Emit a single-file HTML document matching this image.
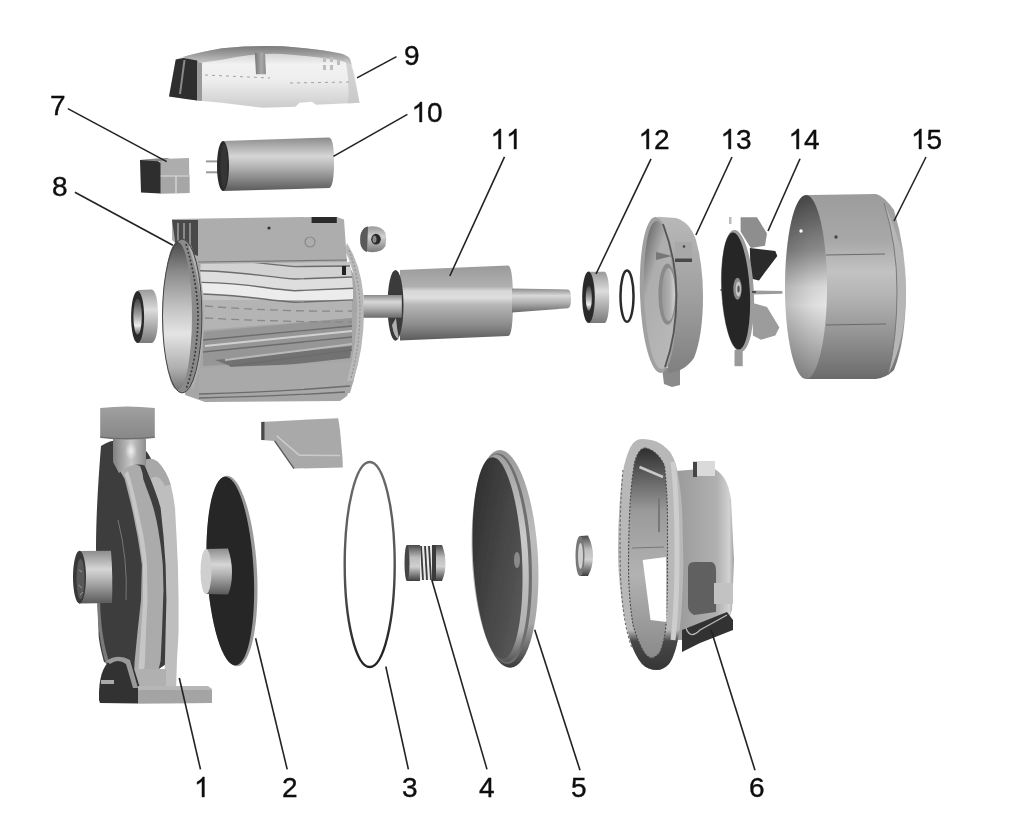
<!DOCTYPE html>
<html><head><meta charset="utf-8"><title>Pump exploded view</title>
<style>
html,body{margin:0;padding:0;background:#fff;}
body{width:1024px;height:833px;overflow:hidden;position:relative;}
svg{position:absolute;left:0;top:0;}
text{font-family:"Liberation Sans",sans-serif;font-size:28px;fill:#111;}
</style></head><body>
<svg width="1024" height="833" viewBox="0 0 1024 833">
<defs>
  <linearGradient id="gV9" x1="0" y1="0" x2="0" y2="1">
    <stop offset="0" stop-color="#c0c0c0"/><stop offset="0.3" stop-color="#f2f2f2"/>
    <stop offset="0.55" stop-color="#eeeeee"/><stop offset="0.85" stop-color="#d8d8d8"/><stop offset="1" stop-color="#cccccc"/>
  </linearGradient>
  <linearGradient id="gCham" x1="0" y1="0" x2="0" y2="1">
    <stop offset="0" stop-color="#7a7a7a"/><stop offset="0.5" stop-color="#a2a2a2"/><stop offset="1" stop-color="#d0d0d0"/>
  </linearGradient>
  <linearGradient id="gSlot" x1="0" y1="0" x2="1" y2="0">
    <stop offset="0" stop-color="#777"/><stop offset="0.6" stop-color="#a8a8a8"/><stop offset="1" stop-color="#888"/>
  </linearGradient>
  <linearGradient id="gCyl" x1="0" y1="0" x2="0" y2="1">
    <stop offset="0" stop-color="#8c8c8c"/><stop offset="0.35" stop-color="#d6d6d6"/>
    <stop offset="0.55" stop-color="#b4b4b4"/><stop offset="1" stop-color="#5a5a5a"/>
  </linearGradient>
  <linearGradient id="gCylH" x1="0" y1="0" x2="1" y2="0">
    <stop offset="0" stop-color="#7a7a7a"/><stop offset="0.45" stop-color="#dadada"/>
    <stop offset="1" stop-color="#7a7a7a"/>
  </linearGradient>
  <linearGradient id="gRing8" x1="0" y1="0" x2="0" y2="1">
    <stop offset="0" stop-color="#4a4a4a"/><stop offset="0.2" stop-color="#8a8a8a"/><stop offset="0.45" stop-color="#c4c4c4"/>
    <stop offset="0.62" stop-color="#e4e4e4"/><stop offset="0.85" stop-color="#b0b0b0"/><stop offset="1" stop-color="#777"/>
  </linearGradient>
  <linearGradient id="gBody8" x1="0" y1="0" x2="0" y2="1">
    <stop offset="0" stop-color="#a0a0a0"/><stop offset="0.3" stop-color="#c6c6c6"/>
    <stop offset="0.5" stop-color="#b0b0b0"/><stop offset="0.8" stop-color="#8e8e8e"/><stop offset="1" stop-color="#a0a0a0"/>
  </linearGradient>
  <linearGradient id="gIn15" x1="0" y1="0" x2="0" y2="1">
    <stop offset="0" stop-color="#4a4a4a"/><stop offset="0.3" stop-color="#8e8e8e"/>
    <stop offset="0.5" stop-color="#dadada"/><stop offset="0.6" stop-color="#e6e6e6"/><stop offset="0.8" stop-color="#b8b8b8"/><stop offset="1" stop-color="#8a8a8a"/>
  </linearGradient>
  <linearGradient id="gIn15L" x1="0" y1="0" x2="1" y2="0">
    <stop offset="0" stop-color="#000" stop-opacity="0.18"/><stop offset="0.6" stop-color="#000" stop-opacity="0.05"/><stop offset="1" stop-color="#000" stop-opacity="0"/>
  </linearGradient>
  <linearGradient id="gOut15" x1="0" y1="0" x2="0" y2="1">
    <stop offset="0" stop-color="#9c9c9c"/><stop offset="0.25" stop-color="#a8a8a8"/><stop offset="0.42" stop-color="#c2c2c2"/>
    <stop offset="0.55" stop-color="#b4b4b4"/><stop offset="0.75" stop-color="#959595"/><stop offset="1" stop-color="#6a6a6a"/>
  </linearGradient>
  <linearGradient id="gDisc5" x1="0" y1="0" x2="1" y2="1">
    <stop offset="0" stop-color="#2a2a2a"/><stop offset="0.5" stop-color="#454545"/><stop offset="1" stop-color="#5e5e5e"/>
  </linearGradient>
  <linearGradient id="gBody6" x1="0" y1="0" x2="1" y2="0">
    <stop offset="0" stop-color="#9a9a9a"/><stop offset="0.7" stop-color="#b0b0b0"/><stop offset="0.92" stop-color="#d2d2d2"/><stop offset="1" stop-color="#a0a0a0"/>
  </linearGradient>
  <linearGradient id="gIn6" x1="0" y1="0" x2="0" y2="1">
    <stop offset="0" stop-color="#2e2e2e"/><stop offset="0.12" stop-color="#5a5a5a"/><stop offset="0.3" stop-color="#9a9a9a"/><stop offset="0.6" stop-color="#b2b2b2"/><stop offset="1" stop-color="#8a8a8a"/>
  </linearGradient>
  <linearGradient id="gRim13" x1="0" y1="0" x2="0" y2="1">
    <stop offset="0" stop-color="#b8b8b8"/><stop offset="0.5" stop-color="#a0a0a0"/><stop offset="1" stop-color="#808080"/>
  </linearGradient>
  <linearGradient id="gIn13" x1="0" y1="0" x2="0.6" y2="1">
    <stop offset="0" stop-color="#3e3e3e"/><stop offset="0.18" stop-color="#7a7a7a"/><stop offset="0.4" stop-color="#adadad"/><stop offset="1" stop-color="#b8b8b8"/>
  </linearGradient>
  <linearGradient id="gBrg" x1="0" y1="0" x2="0" y2="1">
    <stop offset="0" stop-color="#9a9a9a"/><stop offset="0.38" stop-color="#dcdcdc"/><stop offset="1" stop-color="#7a7a7a"/>
  </linearGradient>
  <linearGradient id="gHole" x1="0" y1="0" x2="0" y2="1">
    <stop offset="0" stop-color="#444"/><stop offset="0.5" stop-color="#aaa"/><stop offset="0.75" stop-color="#eee"/><stop offset="1" stop-color="#666"/>
  </linearGradient>
  <linearGradient id="gFinHi" x1="0" y1="0" x2="0" y2="1">
    <stop offset="0" stop-color="#bcbcbc"/><stop offset="0.6" stop-color="#d4d4d4"/><stop offset="1" stop-color="#b6b6b6"/>
  </linearGradient>
  <linearGradient id="gShaft" x1="0" y1="0" x2="0" y2="1">
    <stop offset="0" stop-color="#8a8a8a"/><stop offset="0.3" stop-color="#d8d8d8"/><stop offset="0.6" stop-color="#b0b0b0"/><stop offset="1" stop-color="#6a6a6a"/>
  </linearGradient>
  <linearGradient id="gRotor" x1="0" y1="0" x2="0" y2="1">
    <stop offset="0" stop-color="#9a9a9a"/><stop offset="0.28" stop-color="#b0b0b0"/><stop offset="0.34" stop-color="#d8d8d8"/><stop offset="0.43" stop-color="#dedede"/><stop offset="0.52" stop-color="#b8b8b8"/><stop offset="0.8" stop-color="#8a8a8a"/><stop offset="1" stop-color="#5a5a5a"/>
  </linearGradient>
  <path id="one" d="M763 0H583V1147Q518 1085 412.5 1023T223 930V1104Q371 1174 482 1274T639 1468H763Z" vector-effect="non-scaling-stroke"/>
  <linearGradient id="gSeal" x1="0" y1="0" x2="0" y2="1">
    <stop offset="0" stop-color="#4a4a4a"/><stop offset="0.35" stop-color="#bdbdbd"/><stop offset="0.6" stop-color="#d0d0d0"/><stop offset="1" stop-color="#3e3e3e"/>
  </linearGradient>
  <clipPath id="cp6"><path d="M642,439 C652,439 662,442 670.5,452.5 C675,460 677,467 678,475 C681,490 682,505 682.5,520 L683.4,565 C683,580 682.5,595 681.6,610 C680.5,625 679,636 676.5,646 C674,655 672,660 669,664 C665,668 661,670 657,670 C651,670 646,668 642,664 C637,658 633,650 630,640 C626,627 623,612 621,595 C619,580 618,565 618,550 C618,535 618.5,520 619.5,505 C620.5,490 622,477 624,466 C626,458 628,452 630,448 C633,442 637,439 642,439 Z"/></clipPath>
  <linearGradient id="gBot6" x1="0" y1="0" x2="0" y2="1">
    <stop offset="0" stop-color="#3a3a3a" stop-opacity="0"/><stop offset="0.25" stop-color="#3a3a3a" stop-opacity="0.9"/><stop offset="1" stop-color="#333"/>
  </linearGradient>
  <linearGradient id="gRim5" x1="0" y1="0" x2="0" y2="1">
    <stop offset="0" stop-color="#9a9a9a"/><stop offset="0.4" stop-color="#bdbdbd"/><stop offset="0.8" stop-color="#a8a8a8"/><stop offset="1" stop-color="#3a3a3a"/>
  </linearGradient>
  <linearGradient id="gRim5b" x1="0" y1="0" x2="0" y2="1">
    <stop offset="0" stop-color="#a0a0a0"/><stop offset="0.4" stop-color="#cacaca"/><stop offset="0.85" stop-color="#b0b0b0"/><stop offset="1" stop-color="#555"/>
  </linearGradient>
  <linearGradient id="gHub13" x1="0" y1="0" x2="1" y2="0">
    <stop offset="0" stop-color="#9a9a9a"/><stop offset="0.6" stop-color="#b0b0b0"/><stop offset="1" stop-color="#d2d2d2"/>
  </linearGradient>
  <filter id="soft" x="-2%" y="-2%" width="104%" height="104%"><feGaussianBlur stdDeviation="0.55"/></filter>
  <linearGradient id="gOring" gradientUnits="userSpaceOnUse" x1="344" y1="480" x2="396" y2="650">
    <stop offset="0" stop-color="#6a6a6a"/><stop offset="0.5" stop-color="#555"/><stop offset="1" stop-color="#222"/>
  </linearGradient>
  <linearGradient id="gNut" x1="0" y1="0" x2="0" y2="1">
    <stop offset="0" stop-color="#9a9a9a"/><stop offset="0.4" stop-color="#d0d0d0"/><stop offset="1" stop-color="#7a7a7a"/>
  </linearGradient>
  <linearGradient id="gNeck" x1="0" y1="0" x2="1" y2="0">
    <stop offset="0" stop-color="#808080"/><stop offset="0.55" stop-color="#c8c8c8"/><stop offset="1" stop-color="#8e8e8e"/>
  </linearGradient>
  <linearGradient id="gPipe1" x1="0" y1="0" x2="0" y2="1">
    <stop offset="0" stop-color="#a0a0a0"/><stop offset="0.5" stop-color="#939393"/><stop offset="1" stop-color="#878787"/>
  </linearGradient>
  <radialGradient id="rHi"><stop offset="0" stop-color="#f0f0f0" stop-opacity="0.95"/><stop offset="1" stop-color="#f0f0f0" stop-opacity="0"/></radialGradient>
</defs>

<g id="allparts" filter="url(#soft)">
<!-- PART 9 cover -->
<g id="p9">
  <path d="M169,96.5 L175.4,60.6 Q178,57.5 183,57 Q200,52 222,48.3 Q252,45 283,46.3 Q320,49 340.5,53.5 Q348,55.5 350,59 L355,76 L359.5,102.7 L316,104.7 L312,101.7 L299.5,102.7 L295.4,106.8 L262.5,107.8 L221.5,102.7 L197,100.6 Z" fill="url(#gV9)"/>
  <path d="M183,57 Q200,52 222,48.3 Q252,45 283,46.3 Q320,49 340.5,53.5 Q348,55.5 350,59 L352,65 Q345,61 335,59.5 Q310,56 283,54 Q252,53 224,59.5 Q205,62 197,63.5 Z" fill="url(#gCham)"/>
  <path d="M169,96.6 L175.7,59.5 L183.6,58 L197.2,60.5 L197.5,63 L197,100.6 L186,99 Z" fill="#2e2e2e"/>
  <path d="M197,62 L202,63 L202,101 L197,100.6 Z" fill="#9a9a9a"/>
  <path d="M183.5,60 L185.5,60 L181,94 L179,94 Z" fill="#8a8a8a"/>
  <path d="M254.8,52.7 L265,52.4 L266,74.2 L256,74.2 Z" fill="url(#gSlot)"/>
  <path d="M345,58 Q352,62 354,76 L359.5,102.7 L348,103.5 Q350,80 345,58 Z" fill="#c4c4c4" opacity="0.7"/>
  <g stroke="#9a9a9a" stroke-width="0.9" stroke-dasharray="3 4" fill="none"><path d="M205,75 L270,78"/><path d="M290,83 L350,82"/></g>
  <g fill="#bdbdbd"><rect x="323" y="57" width="3" height="5"/><rect x="330" y="57" width="3" height="5"/><rect x="323" y="65" width="3" height="5"/><rect x="330" y="65" width="3" height="5"/><rect x="337" y="60" width="3" height="5"/></g>
</g>

<!-- PART 7 block -->
<g id="p7">
  <path d="M160,159 L189,158 L189.5,193 L160,193.5 Z" fill="#adadad"/>
  <path d="M160,175 L189.5,175 L189.5,193 L160,193.5 Z" fill="#a6a6a6"/>
  <line x1="176" y1="176" x2="176" y2="193" stroke="#e0e0e0" stroke-width="1.2"/>
  <line x1="160" y1="176" x2="189.5" y2="176" stroke="#e0e0e0" stroke-width="1"/>
  <path d="M140,160 L156,159.5 L160.5,163 L160.5,193.5 L141,192.5 Z" fill="#2e2e2e"/>
  <path d="M140,160 L156,158.5 L170,158 L160,161.5 Z" fill="#888"/>
</g>

<!-- PART 10 capacitor -->
<g id="p10">
  <line x1="206" y1="161.4" x2="226" y2="161.4" stroke="#9a9a9a" stroke-width="2"/>
  <line x1="206" y1="172.3" x2="226" y2="172.3" stroke="#9a9a9a" stroke-width="2"/>
  <path d="M223,141 L329,137.5 Q334,138 334,162.5 Q334,187 329,188 L223,191 Z" fill="url(#gCyl)"/>
  <ellipse cx="223" cy="166" rx="6" ry="25" fill="#2a2a2a"/>
  <ellipse cx="224" cy="166" rx="3.5" ry="22" fill="#363636"/>
</g>

<!-- PART 8 motor -->
<g id="p8">
  <!-- bearing left -->
  <path d="M138,290 L152,289.5 Q158,292 158,316 Q158,340 152,343 L138,343 Z" fill="url(#gBrg)"/>
  <ellipse cx="137.6" cy="317" rx="6.5" ry="26" fill="#2a2a2a"/>
  <ellipse cx="137.6" cy="316.5" rx="4.2" ry="18" fill="url(#gHole)"/>
  <!-- body -->
  <path d="M192,262 L347,262 Q363,290 363.5,310 Q363,345 353.5,381 L347,396 L340,401 L205,402 L185,395 Z" fill="#a6a6a6"/>
  <path d="M200,262 L350,262 L352,300 L203,300 Z" fill="#c4c4c4"/>
  <path d="M203,259 C250,260 265,264.6 295,266.6 L350,266 L352,277 L295,279 C265,277 250,272 200,270.8 Z" fill="#d2d2d2"/>
  <path d="M200,270.8 C250,272 265,277 295,279 L352,277 L353,288.2 L295,290.7 C265,288.7 250,283.5 201.6,282.4 Z" fill="#dedede"/>
  <path d="M201.6,282.4 C250,283.5 265,288.7 295,290.7 L353,288.2 L353,299.9 L295,302.3 C265,300.3 250,295.5 203.3,294 Z" fill="#ececec"/>
  <path d="M203,300 L352,300 L352,318 L203,330 Z" fill="#b4b4b4"/>
  <path d="M203,332 L352,318 L352,346 L300,360 L203,366 Z" fill="#969696"/>
  <path d="M215,360 L352,346 L350,358 L240,370 Z" fill="#727272"/>
  <path d="M199,368 L353.5,362 L353.5,381 L350,393 L199,393 Z" fill="#a9a9a9"/>
  <g stroke-width="1.4" fill="none" stroke="#6c6c6c">
    <path d="M203,259 C250,260 265,264.6 295,266.6 L350,266"/>
    <path d="M200,270.8 C250,272 265,277 295,279 L352,277"/>
    <path d="M201.6,282.4 C250,283.5 265,288.7 295,290.7 L353,288.2"/>
    <path d="M203.3,294 C250,295.5 265,300.3 295,302.3 L353,299.9"/>
  </g>
  <g stroke-width="1.3" fill="none" stroke="#888" stroke-dasharray="8 5">
    <path d="M205,306 Q280,312 352,311"/>
    <path d="M205,318 Q280,322 352,322"/>
  </g>
  <g stroke-width="1.3" fill="none" stroke="#6c6c6c">
    <path d="M203,340 L352,326"/>
    <path d="M203,352 L352,337"/>
    <path d="M230,366 L352,350"/>
    <path d="M199,394 Q280,392 350,386"/>
    <path d="M199,398 Q280,396 345,392"/>
  </g>
  <g stroke-width="2" fill="none" stroke="#d0d0d0">
    <path d="M205,346 L352,331"/>
    <path d="M225,360 L352,344" stroke="#bababa"/>
  </g>
  <!-- right end cap -->
  <path d="M347,243 Q364,270 364,310 Q364,350 353,381 L347,381 Q357,345 357,310 Q357,275 345,250 Z" fill="#b8b8b8"/>
  <g stroke="#888" stroke-width="1" stroke-dasharray="2 2" fill="none"><path d="M349,250 Q360,280 360,310 Q360,345 351,378"/></g>
  <!-- top box -->
  <path d="M172,219 L312,217 L337,217 L344,219.6 L347,262 L198,264 L172,240 Z" fill="#adadad"/>
  <path d="M198,262 L347,260" stroke="#777" stroke-width="1.2"/>
  <path d="M172,220 L198,220 L198,256 L176,248 Z" fill="#4a4a4a"/>
  <g stroke="#a0a0a0" stroke-width="1.5"><line x1="178" y1="223" x2="178" y2="246"/><line x1="184" y1="223" x2="184" y2="250"/><line x1="190" y1="223" x2="190" y2="252"/></g>
  <path d="M311.6,217 L336.8,217 L336.8,223 L311.6,223 Z" fill="#2a2a2a"/>
  <path d="M342,266 L346,266 L346,275 L342,275 Z" fill="#222"/>
  <circle cx="269" cy="228" r="1.6" fill="#333"/>
  <circle cx="310" cy="242" r="5" fill="none" stroke="#8a8a8a" stroke-width="1.2"/>
  <!-- front ring -->
  <ellipse cx="182.2" cy="316" rx="19.7" ry="77" fill="#8a8a8a"/>
  <path d="M190,246 Q204,290 203,320 Q202,360 192,388" stroke="#b0b0b0" stroke-width="2.5" fill="none"/>
  <path d="M186,244 Q198,285 198,318 Q197,360 186,389" stroke="#3a3a3a" stroke-width="1.6" stroke-dasharray="2 2" fill="none"/>
  <ellipse cx="177.5" cy="316" rx="14.5" ry="74" fill="url(#gRing8)"/>
  <ellipse cx="182.2" cy="316" rx="19.7" ry="77" fill="none" stroke="#444" stroke-width="1"/>
  <!-- nut -->
  <path d="M361,233 Q364,226.5 372,226.3 Q382,226 385.5,233 Q387,239 385.5,246 Q382,252.2 372,252.2 Q364,252 361,246 Q359.3,239 361,233 Z" fill="url(#gNut)"/>
  <path d="M361,233 Q364,226.5 368,226.6 L367,252 Q363,251 361,246 Q359.3,239 361,233 Z" fill="#5a5a5a"/>
  <ellipse cx="376" cy="239.2" rx="4.8" ry="5.4" fill="#2a2a2a"/>
  <ellipse cx="374.5" cy="239.2" rx="2" ry="3.5" fill="#8a8a8a"/>
</g>

<!-- PART 11 rotor -->
<g id="p11">
  <path d="M400,270 L508,265.5 Q513,266 513,301 Q513,336 508,336 L400,340.6 Z" fill="url(#gRotor)"/>
  <ellipse cx="395.5" cy="305.3" rx="8" ry="35.4" fill="#3a3a3a"/>
  <path d="M392,325 Q394,338 399,339 Q397,330 396,318 Z" fill="#b0b0b0"/>
  <path d="M363.6,295 L401.8,295 L401.8,317.8 L363.6,317.8 Z" fill="url(#gShaft)"/>
  <path d="M512,288.4 L568,289.5 Q571,290 571,299 Q571,307.5 568,308.2 L512,312.4 Z" fill="url(#gShaft)"/>
</g>

<!-- PART 12 bearing + oring -->
<g id="p12">
  <path d="M588.5,271.7 L605,271.7 Q609.2,276 609.2,297 Q609.2,319 605,323 L588.5,323 Z" fill="url(#gBrg)"/>
  <ellipse cx="588.5" cy="297.3" rx="6.3" ry="25.7" fill="#2c2c2c"/>
  <ellipse cx="588.8" cy="298.2" rx="3" ry="12.5" fill="url(#gHole)"/>
  <ellipse cx="627" cy="296.1" rx="6.5" ry="25.6" fill="none" stroke="#2a2a2a" stroke-width="2.5"/>
</g>

<!-- PART 13 end shield -->
<g id="p13">
  <path d="M662,368 L680,368 L680,385 L672,387 L664,384 Z" fill="#8a8a8a"/>
  <path d="M658,216.8 L676,218 Q690,222 696,240 Q703,265 703,296 Q703,335 694,358 Q684,372 668,373 Z" fill="url(#gRim13)"/>
  <ellipse cx="658" cy="295" rx="18" ry="78" transform="rotate(-2 658 295)" fill="#a0a0a0"/>
  <ellipse cx="659" cy="295" rx="15" ry="74" transform="rotate(-2 659 295)" fill="url(#gIn13)"/>
  <ellipse cx="667.4" cy="294.2" rx="9" ry="30.6" fill="#8a8a8a"/>
  <ellipse cx="668.5" cy="294.5" rx="6.5" ry="26.5" fill="url(#gHub13)"/>
  <path d="M675,242 L692,242 L692,262 L675,262 Z" fill="#a8a8a8"/>
  <path d="M675,258.5 L692,258.5 L692,262 L675,262 Z" fill="#4a4a4a"/>
  <circle cx="684" cy="246.5" r="1.3" fill="#444"/>
  <path d="M656,252 L672,256 L656,260 Z" fill="#777"/>
  <path d="M663,224 Q676.5,260 676.5,295 Q676.5,335 665,367" stroke="#555" stroke-width="1.8" fill="none"/>
</g>

<!-- PART 14 fan -->
<g id="p14">
  <path d="M740.6,217.2 L757,217.2 L767,233.6 L765,245.8 L750.8,247.9 L740.6,231.5 Z" fill="#8e8e8e"/>
  <path d="M749.8,247.9 L775.3,250.9 L777.3,256 L765,272.3 L759,280.5 L750.8,278.5 Z" fill="#2c2c2c"/>
  <path d="M752,290.5 L782.4,291 L782.4,293.8 L752,294.5 Z" fill="#9c9c9c"/>
  <path d="M752.9,303 L767,307 L779.4,327.4 L775.3,335.6 L761,339.7 L752.9,335.6 Z" fill="#9c9c9c"/>
  <path d="M734.5,350 L742.7,350 L742.7,366.2 L734.5,366.2 Z" fill="#9a9a9a"/>
  <path d="M729,217 L731.5,217 L731.5,224 L729,224 Z" fill="#bbb"/>
  <ellipse cx="737.5" cy="291" rx="16.3" ry="61" transform="rotate(-3 737.5 291)" fill="#9c9c9c"/>
  <ellipse cx="735.8" cy="291" rx="14" ry="58.5" transform="rotate(-3 735.8 291)" fill="#262626"/>
  <ellipse cx="737.5" cy="288.7" rx="4.2" ry="11" fill="#8a8a8a"/>
  <ellipse cx="738.3" cy="289" rx="2.6" ry="7.5" fill="#c8c8c8"/>
  <ellipse cx="738.5" cy="289" rx="1.2" ry="3.5" fill="#555"/>
  <path d="M720.5,290 L724,290 M752,292 L756,292" stroke="#333" stroke-width="1.5"/>
</g>

<!-- PART 15 cover -->
<g id="p15">
  <path d="M806,195 L876,194 Q884,196 894,210 Q906,250 906,290 Q906,340 894,370 Q886,378 876,379 L806,379 Z" fill="url(#gOut15)"/>
  <path d="M884,203 Q906,250 906,290 Q906,340 888,375 Q897,340 897,290 Q897,245 884,203 Z" fill="#b6b6b6"/>
  <path d="M884,203 Q897,245 897,290 Q897,340 888,375" stroke="#7a7a7a" stroke-width="1" fill="none"/>
  <ellipse cx="806" cy="287" rx="21" ry="92" fill="url(#gIn15)"/>
  <ellipse cx="806" cy="287" rx="21" ry="92" fill="url(#gIn15L)"/>
  <path d="M826,255 L885,254" stroke="#6a6a6a" stroke-width="1.2"/>
  <path d="M826,325 L886,324" stroke="#6a6a6a" stroke-width="1.2"/>
  <circle cx="801" cy="231" r="1.7" fill="#fff"/>
  <circle cx="836" cy="237" r="1.7" fill="#444"/>
</g>

<!-- PART 1 casing -->
<g id="p1">
  <!-- dark volute -->
  <path d="M101,446 Q118,434 142,446 Q165,470 170,540 L172,660 L150,675 L104,662 Q98,640 98.6,632 L96,548 Q96,508 101,446 Z" fill="#3c3c3c"/>
  <path d="M97,600 Q98,640 106,664 L110,664 Q101,640 100,600 Z" fill="#7a7a7a"/>
  <path d="M118,520 Q128,560 126,600" stroke="#777" stroke-width="1" fill="none"/>
  <!-- flange front band -->
  <path d="M118.8,468.7 Q130,462 140,466 C142,470 143,475 143.3,479 C147,490 151,499 153.4,508 C156,517 158,527 159.2,536 C161,546 162,556 162.8,565 L163.5,590 L162,632 L160.6,661 L158,672 L134,672 L134.7,661 L137.5,632 L141,600 L141.9,565 C140.5,555 139,545 137.5,536 C135.5,527 134,517 131.8,508 C129.5,498 127,488 124.6,479 Z" fill="#ababab"/>
  <path d="M128,471 C132,483 135,496 137.5,508 C140,520 142,528 143.5,536 C145,546 146.5,556 147,565 L147.5,600 L146,632 L145,661 L144,672 L138,672 L139,661 L141,632 L143,600 L143,565 C142,556 140.5,546 139,536 C137,526 135,516 133,508 C131,496 128.5,484 124.6,474 Z" fill="#c6c6c6"/>
  <!-- outer lip -->
  <path d="M143.3,461.5 Q150,456 158,462 Q166,470 170.7,484.6 C172.5,492 174,500 175,508 L176.5,536 L177.9,565 L178.6,600 L178.6,632 L177,660 L176,690 L164,690 L165,660 L165.6,632 L166.4,600 L165.6,565 L163.5,536 L160.6,508 C158,498 154,488 150.5,479 Z" fill="#bebebe"/>
  <path d="M143.3,461.5 Q150,456 158,462 Q166,470 170.7,484.6 L165,486 Q158,472 150.5,479 Z" fill="#a8a8a8"/>
  <!-- neck -->
  <path d="M113,439 L146,439 L146,466 Q133,461 119,473 L113,462 Z" fill="url(#gNeck)"/>
  <ellipse cx="131" cy="451" rx="6" ry="9" fill="url(#rHi)"/>
  <!-- top pipe -->
  <path d="M100.2,408 Q127,405 154.8,408 L154.8,438 Q127,441 100.2,438 Z" fill="url(#gPipe1)"/>
  <path d="M100.2,437 Q127,440.5 154.8,437" stroke="#6a6a6a" stroke-width="1.2" fill="none"/>
  <!-- inlet pipe -->
  <path d="M79,551 L111,550.8 Q113,576 112,603 L79,603.5 Z" fill="url(#gCyl)"/>
  <ellipse cx="79.5" cy="577.2" rx="6.5" ry="26.4" fill="#383838"/>
  <ellipse cx="80.5" cy="579" rx="4" ry="20" fill="#595959"/>
  <path d="M79,570 L82,572 M78.5,585 L82,588 M80,595 L83,592" stroke="#999" stroke-width="1"/>
  <!-- foot -->
  <path d="M133,669 L166,669 L166,687 L133,687 Z" fill="#b0b0b0"/>
  <path d="M99,700 Q98,668 112,659 Q122,654 132,662 L140,688 L138,703.5 L100,703 Z" fill="#333"/>
  <path d="M106,661 Q118,653 130,660 L138,688 L133,688 L126,664 Q118,658 110,664 Z" fill="#9a9a9a"/>
  <path d="M101,680 L114,680 L114,684 L101,684 Z" fill="#aaa"/>
  <path d="M138,686 L208,686 L212,689 L212,703 L138,703.5 Z" fill="#b6b6b6"/>
  <path d="M138,690 L212,690 L212,703 L138,703.5 Z" fill="#a4a4a4"/>
</g>

<!-- PART 2 impeller -->
<g id="p2">
  <ellipse cx="232" cy="571" rx="25" ry="95.5" transform="rotate(-3.2 232 571)" fill="#9a9a9a"/>
  <ellipse cx="230.3" cy="571" rx="23.3" ry="94.5" transform="rotate(-3.2 230.3 571)" fill="#262626"/>
  <path d="M206,549 L228,548.4 Q232,560 232,572 Q232,586 228,594.6 L206,594 Z" fill="url(#gCyl)"/>
  <ellipse cx="206" cy="571.5" rx="5.5" ry="22.5" fill="#cfcfcf"/>
</g>

<!-- bracket piece under motor -->
<g id="pbr">
  <path d="M261.3,421.9 L300,420 L338.2,418.3 L340,430 L342.5,458 L342.8,467.5 L294,468.6 L274.6,440.9 L261.3,439.9 Z" fill="#a9a9a9"/>
  <path d="M261.3,421.9 L264.5,421.7 L264.5,440 L261.3,439.9 Z" fill="#4a4a4a"/>
  <path d="M276.7,435.8 L299.2,455.2 L340,455.5" stroke="#cacaca" stroke-width="1.6" fill="none"/>
  <path d="M274.6,440.9 L294,468.6" stroke="#5a5a5a" stroke-width="1.4" fill="none"/>
</g>

<!-- PART 3 O-ring -->
<ellipse cx="369.7" cy="564.5" rx="25" ry="102.5" fill="none" stroke="url(#gOring)" stroke-width="2.4"/>

<!-- PART 4 seal -->
<g id="p4">
  <path d="M407,545 L420,545 L420,581 L407,581 Z" fill="url(#gSeal)"/>
  <ellipse cx="407" cy="563" rx="2.5" ry="18" fill="#444"/>
  <path d="M420,546 L432,546 L432,580 L420,580 Z" fill="#e8e8e8"/>
  <g stroke="#3a3a3a" stroke-width="1.8" fill="none"><path d="M421,546 L423,580"/><path d="M425,546 L427,580"/><path d="M429,546 L431,580"/></g>
  <path d="M432,545 L442,545 Q445.5,553 445.5,563 Q445.5,573 442,581 L432,581 Z" fill="url(#gSeal)"/>
  <path d="M432,545 L436,545 L436,581 L432,581 Z" fill="#3a3a3a"/>
</g>

<!-- PART 5 disc -->
<g id="p5">
  <ellipse cx="505" cy="558.9" rx="33" ry="109" transform="rotate(-3 505 558.9)" fill="url(#gRim5)"/>
  <ellipse cx="502.5" cy="558.5" rx="29" ry="105.5" transform="rotate(-3 502.5 558.5)" fill="#6e6e6e"/>
  <ellipse cx="501.3" cy="558.3" rx="27" ry="104" transform="rotate(-3 501.3 558.3)" fill="url(#gRim5b)"/>
  <ellipse cx="497.5" cy="558" rx="24.5" ry="101" transform="rotate(-3 497.5 558)" fill="url(#gDisc5)"/>
  <ellipse cx="517" cy="560" rx="3" ry="8" fill="#8a8a8a"/>
</g>

<!-- small nut near 6 -->
<g>
  <path d="M580,536 L588,535.5 Q593,545 593,556 Q593,567 588,576 L580,576 Z" fill="url(#gSeal)"/>
  <ellipse cx="580" cy="556" rx="4.5" ry="20" fill="#777"/>
  <ellipse cx="580.5" cy="556" rx="2.5" ry="13" fill="#d0d0d0"/>
</g>

<!-- PART 6 adapter -->
<g id="p6">
  <path d="M676,471 L712,468 Q728,474 731,500 L734,560 L732,610 L727,625 L690,640 L676,640 Z" fill="url(#gBody6)"/>
  <path d="M693,461 L715,461 L715,476 L693,476 Z" fill="#dadada"/>
  <path d="M693,462 L697,462 L697,477 L693,477 Z" fill="#444"/>
  <path d="M688,568 Q688,562 694,562 L712,562 Q716,564 716,570 L716,612 L694,615 Q688,612 688,606 Z" fill="#606060"/>
  <path d="M714,583 L733,583 L733,604 L714,604 Z" fill="#c2c2c2"/>
  <path d="M682,630 L727,612 L733,620 L733,630 L700,643 L682,652 Z" fill="#333"/>
  <path d="M686,628 Q690,640 700,630 L727,615" stroke="#bbb" stroke-width="1.2" fill="none"/>
  <path d="M642,439 C652,439 662,442 670.5,452.5 C675,460 677,467 678,475 C681,490 682,505 682.5,520 L683.4,565 C683,580 682.5,595 681.6,610 C680.5,625 679,636 676.5,646 C674,655 672,660 669,664 C665,668 661,670 657,670 C651,670 646,668 642,664 C637,658 633,650 630,640 C626,627 623,612 621,595 C619,580 618,565 618,550 C618,535 618.5,520 619.5,505 C620.5,490 622,477 624,466 C626,458 628,452 630,448 C633,442 637,439 642,439 Z" fill="#b8b8b8"/>
  <rect x="615" y="630" width="75" height="45" fill="url(#gBot6)" clip-path="url(#cp6)"/>
  <path d="M623,470 C620,500 619.5,540 620.5,575 C622,610 626,632 632,648" stroke="#6a6a6a" stroke-width="1.1" stroke-dasharray="2.5 2" fill="none"/>
  <path d="M645,448 C652,449 660,455 664.5,466 C666.5,485 667.5,502 667.5,520 L667.5,580 C667.2,597 666.8,611 666,625 C665,636 663,645 660,652 C657,656 654,658 651,658 C645,657 639,645 633,625 C630,606 628.5,585 628.5,565 C628.5,545 629,525 630,505 C631,488 632.5,475 634.5,463 C637,453 641,448 645,448 Z" fill="url(#gIn6)"/>
  <path d="M645,448 C652,449 660,455 664.5,466 C666.5,485 667.5,502 667.5,520 L667.5,580 C667.2,597 666.8,611 666,625 C665,636 663,645 660,652 C657,656 654,658 651,658 C645,657 639,645 633,625 C630,606 628.5,585 628.5,565 C628.5,545 629,525 630,505 C631,488 632.5,475 634.5,463 C637,453 641,448 645,448 Z" fill="none" stroke="#4a4a4a" stroke-width="1.1" stroke-dasharray="2 1.5"/>
  <path d="M642.7,560 L666,557 L666.5,622 L650.5,620 Z" fill="#fff"/>
  <path d="M632,548 L664,547" stroke="#777" stroke-width="1.2"/>
  <path d="M639.5,467 L663,477" stroke="#c8c8c8" stroke-width="2.5"/>
  <path d="M659,498 L659,532" stroke="#777" stroke-width="2"/>
  <path d="M673,462 Q677,495 677,554 Q677,605 673,640" stroke="#cdcdcd" stroke-width="5" fill="none" clip-path="url(#cp6)"/>
</g>

<!-- leader lines -->
<g stroke="#222" stroke-width="1.6" fill="none">
  <line x1="67.8" y1="108.6" x2="166.7" y2="161.6"/>
  <line x1="74.9" y1="192.2" x2="172.9" y2="245.3"/>
  <line x1="396.5" y1="56.6" x2="357" y2="77.9"/>
  <line x1="407.4" y1="114.4" x2="333.4" y2="156.4"/>
  <line x1="504.5" y1="156.9" x2="449.8" y2="276"/>
  <line x1="651" y1="158.8" x2="596" y2="274"/>
  <line x1="732" y1="157" x2="695.9" y2="235"/>
  <line x1="800" y1="158.8" x2="768" y2="231"/>
  <line x1="926" y1="157" x2="894" y2="221"/>
  <line x1="179.3" y1="678" x2="200.5" y2="769.4"/>
  <line x1="255.6" y1="638.3" x2="287.2" y2="769.4"/>
  <line x1="385.8" y1="666.5" x2="408.4" y2="769.4"/>
  <line x1="431.8" y1="580" x2="487" y2="769.4"/>
  <line x1="534.7" y1="629.7" x2="580" y2="770.3"/>
  <line x1="711" y1="629.7" x2="755" y2="770.3"/>
</g>

<!-- labels -->
<g fill="#111" stroke="#111" stroke-width="0.4">
  <text x="50.00" y="115">7</text>
  <text x="52.00" y="196">8</text>
  <text x="404.00" y="65">9</text>
  <use href="#one" transform="translate(411.50 122) scale(0.013672 -0.013672)"/>
  <text x="427.07" y="122">0</text>
  <use href="#one" transform="translate(490.50 149) scale(0.013672 -0.013672)"/>
  <use href="#one" transform="translate(506.07 149) scale(0.013672 -0.013672)"/>
  <use href="#one" transform="translate(638.50 149) scale(0.013672 -0.013672)"/>
  <text x="654.07" y="149">2</text>
  <use href="#one" transform="translate(720.50 149) scale(0.013672 -0.013672)"/>
  <text x="736.07" y="149">3</text>
  <use href="#one" transform="translate(788.50 149) scale(0.013672 -0.013672)"/>
  <text x="804.07" y="149">4</text>
  <use href="#one" transform="translate(911.00 149) scale(0.013672 -0.013672)"/>
  <text x="926.57" y="149">5</text>
  <use href="#one" transform="translate(194.00 797) scale(0.013672 -0.013672)"/>
  <text x="282.00" y="797">2</text>
  <text x="402.00" y="797">3</text>
  <text x="479.00" y="797">4</text>
  <text x="571.00" y="797">5</text>
  <text x="749.00" y="797">6</text>
</g>

</g>
</svg>
</body></html>
